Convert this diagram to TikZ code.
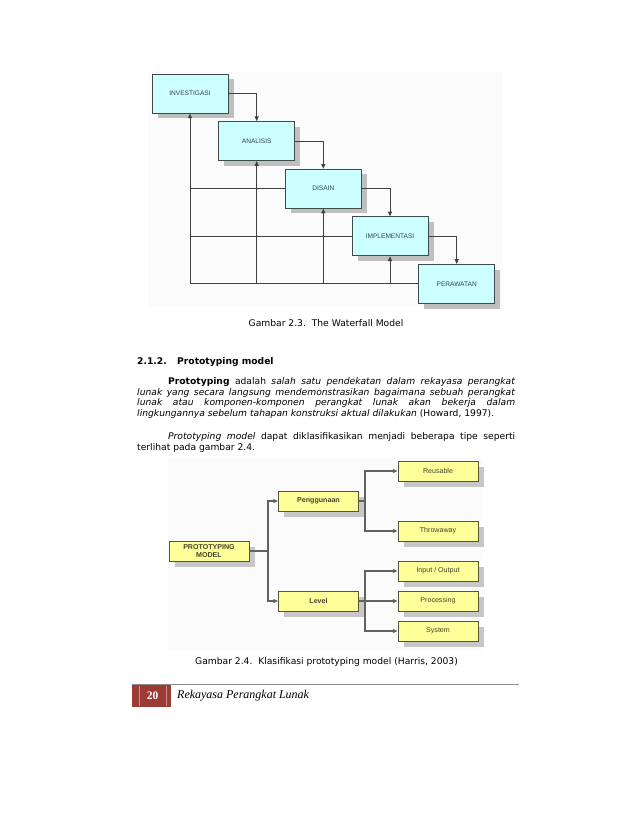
\documentclass[tikz,border=0pt]{standalone}
\usepackage{fontspec}
\setmainfont{DejaVu Sans}
\newfontfamily\boxfont{Liberation Sans}
\newfontfamily\footfont{Liberation Serif}
\usetikzlibrary{arrows.meta,shadows}

\definecolor{wfcyan}{HTML}{CCFFFF}
\definecolor{wfedge}{HTML}{3F4A4A}
\definecolor{wftext}{HTML}{34444F}
\definecolor{ptyellow}{HTML}{FFFF99}
\definecolor{ptedge}{HTML}{55553A}
\definecolor{pttext}{HTML}{45452A}
\definecolor{footred}{HTML}{9A3B36}

\tikzset{
    wfbox/.style={
        draw=wfedge, fill=wfcyan, line width=0.8pt,
        minimum width=72.9pt, minimum height=37.4pt, inner sep=0pt,
        font=\boxfont\fontsize{6.3}{7.5}\selectfont, text=wftext,
        drop shadow={shadow xshift=5.5pt, shadow yshift=-5pt, fill=black!25, opacity=1}
    },
    ptbox/.style={
        draw=ptedge, fill=ptyellow, line width=0.8pt, align=center,
        minimum width=76.7pt, minimum height=19.2pt, inner sep=0pt,
        font=\boxfont\fontsize{6.8}{7.6}\selectfont, text=pttext,
        drop shadow={shadow xshift=5.5pt, shadow yshift=-5.5pt, fill=black!22, opacity=1}
    },
    wfline/.style={draw=black!75, line width=0.95pt},
    ptline/.style={draw=black!62, line width=1.1pt},
    bodytext/.style={font=\fontsize{8.8}{10.24}\selectfont, inner sep=0pt}
}

\begin{document}
\begin{tikzpicture}[x=0.9593pt, y=-0.9593pt, >={Triangle[length=4.6pt,width=3.8pt]}]
    \fill[white] (0,0) rectangle (638,826);
    \useasboundingbox (0,0) rectangle (638,826);

    % waterfall model
    \fill[black!1.5] (148,72) rectangle (503,307);
    \node[wfbox] (inv) at (190,93.5) {INVESTIGASI};
    \node[wfbox] (ana) at (256.7,141.1) {ANALISIS};
    \node[wfbox] (dis) at (323.3,188.7) {DISAIN};
    \node[wfbox] (imp) at (390,236.3) {IMPLEMENTASI};
    \node[wfbox] (per) at (456.7,283.9) {PERAWATAN};

    \draw[wfline, ->] (inv.east) -| (ana.north);
    \draw[wfline, ->] (ana.east) -| (dis.north);
    \draw[wfline, ->] (dis.east) -| (imp.north);
    \draw[wfline, ->] (imp.east) -| (per.north);

    \draw[wfline, ->] (per.west) -| (inv.south);
    \draw[wfline] (dis.west) -- (dis.west -| inv.south);
    \draw[wfline] (imp.west) -- (imp.west -| inv.south);
    \draw[wfline, ->] (ana.south |- per.west) -- (ana.south);
    \draw[wfline, ->] (dis.south |- per.west) -- (dis.south);
    \draw[wfline, ->] (imp.south |- per.west) -- (imp.south);
    \fill[black!75] (ana.south |- dis.west) circle (1.1pt);
    \fill[black!75] (ana.south |- imp.west) circle (1.1pt);
    \fill[black!75] (dis.south |- imp.west) circle (1.1pt);

    \node[bodytext, anchor=base] (cap1) at (326,326) {Gambar 2.3.\ \ The Waterfall Model};

    % text
    \node[bodytext, anchor=base west] (head) at (137,364.5)
        {\bfseries\makebox[38.4pt][l]{2.1.2.}Prototyping model};
    \node[bodytext, anchor=base west, text width=362.6pt, align=justify] (para1) at (137,384.5)
        {\hyphenpenalty=10000\exhyphenpenalty=10000\hspace*{29.7pt}\textbf{Prototyping} adalah
        \textit{salah satu pendekatan dalam rekayasa perangkat}\linebreak
        \textit{lunak yang secara langsung mendemonstrasikan bagaimana sebuah perangkat}\linebreak
        \textit{lunak atau komponen-komponen perangkat lunak akan bekerja dalam}\linebreak
        \textit{lingkungannya sebelum tahapan konstruksi aktual dilakukan} (Howard, 1997).};
    \node[bodytext, anchor=base west, text width=362.6pt, align=justify] (para2) at (137,439.5)
        {\hyphenpenalty=10000\hspace*{29.7pt}\textit{Prototyping model} dapat diklasifikasikan
        menjadi beberapa tipe seperti\linebreak terlihat pada gambar 2.4.};

    % prototyping model
    \fill[black!1.5] (168,458) rectangle (483,650);
    \node[ptbox] (proto) at (209,551) {\bfseries PROTOTYPING\\\bfseries MODEL};
    \node[ptbox] (peng) at (318.5,501) {\bfseries Penggunaan};
    \node[ptbox] (lvl) at (318.5,601) {\bfseries Level};
    \node[ptbox] (reuse) at (438,471) {Reusable};
    \node[ptbox] (throw) at (438,531) {Throwaway};
    \node[ptbox] (inout) at (438,571) {Input / Output};
    \node[ptbox] (proc) at (438,601) {Processing};
    \node[ptbox] (sys) at (438,631) {System};

    \coordinate (jroot) at (268,551);
    \coordinate (jpeng) at (365,501);
    \coordinate (jlvl) at (365,601);
    \draw[ptline] (proto.east) -- (jroot);
    \draw[ptline, ->] (jroot) |- (peng.west);
    \draw[ptline, ->] (jroot) |- (lvl.west);
    \draw[ptline] (peng.east) -- (jpeng);
    \draw[ptline, ->] (jpeng) |- (reuse.west);
    \draw[ptline, ->] (jpeng) |- (throw.west);
    \draw[ptline] (lvl.east) -- (jlvl);
    \draw[ptline, ->] (jlvl) |- (inout.west);
    \draw[ptline, ->] (jlvl) -- (proc.west);
    \draw[ptline, ->] (jlvl) |- (sys.west);

    \node[bodytext, anchor=base] (cap2) at (326.5,664)
        {Gambar 2.4.\ \ Klasifikasi prototyping model (Harris, 2003)};

    % footer
    \draw[black!45, line width=0.6pt] (132,684) -- (519,684);
    \fill[footred] (132,685) rectangle (171,707);
    \draw[footred!55!white, line width=0.5pt] (139,686) -- (139,706);
    \draw[footred!55!white, line width=0.5pt] (166,686) -- (166,706);
    \node[text=white, font=\footfont\bfseries\fontsize{11}{12}\selectfont] (pgnum) at (152.5,696) {20};
    \node[anchor=west, inner sep=0pt, font=\footfont\itshape\fontsize{11.5}{13}\selectfont] (runhead) at (177,696)
        {Rekayasa Perangkat Lunak};
\end{tikzpicture}
\end{document}
